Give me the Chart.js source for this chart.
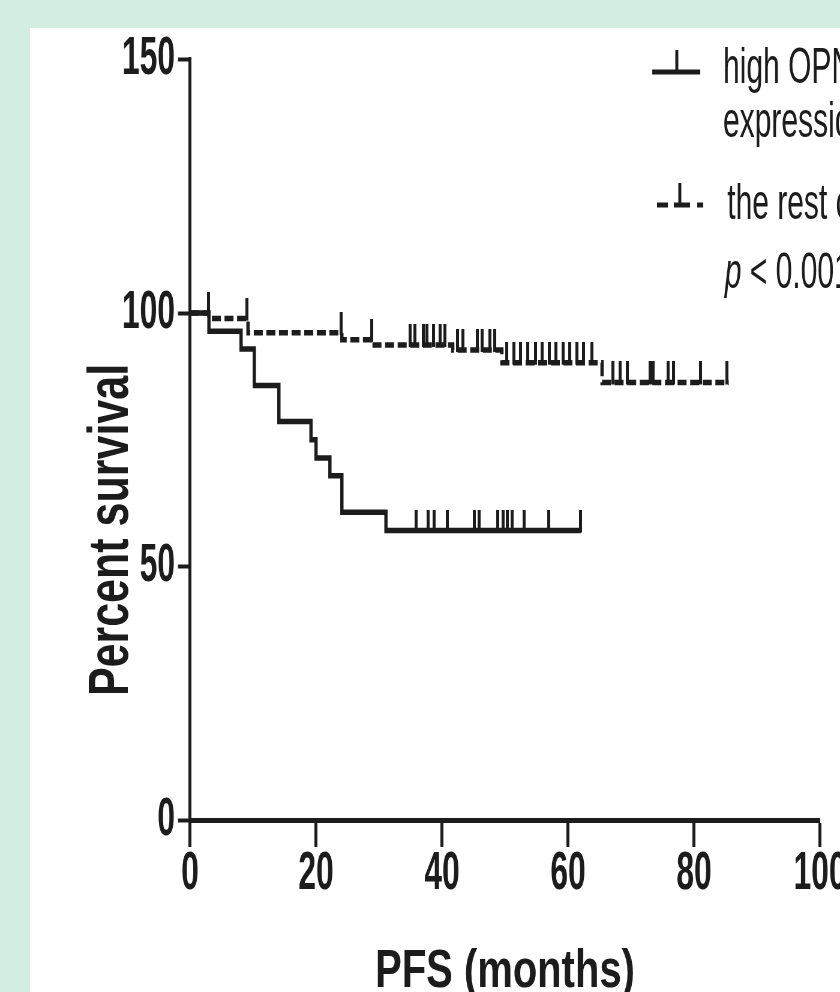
<!DOCTYPE html>
<html>
<head>
<meta charset="utf-8">
<script src="https://cdn.jsdelivr.net/npm/chart.js@4.4.1/dist/chart.umd.min.js"></script>
<style>
  html, body { margin:0; padding:0; width:840px; height:992px; overflow:hidden; background:#d4eee2; }
  #panel { position:absolute; left:30px; top:28px; width:810px; height:964px; background:#fff; overflow:hidden; }
  #km { position:absolute; left:0; top:0; }
</style>
</head>
<body>
<div id="panel"><canvas id="km" width="1500" height="964" style="width:900px;height:964px"></canvas></div>
<script>
// KM steps (months, percent)
const highMonths = [0, 3.0, 8.1, 10.2, 14.1, 19.2, 20.0, 22.2, 24.1, 31.1, 62.0];
const highSurv   = [100, 96.4, 92.9, 85.7, 78.6, 75.0, 71.4, 67.9, 60.7, 57.1, 57.1];
const highCensor = [35.9, 37.8, 38.7, 40.8, 45.1, 45.9, 48.8, 49.7, 50.4, 51.1, 53.0, 56.9, 62.0];

const restMonths = [0, 3.0, 9.2, 24.1, 28.9, 41.7, 49.5, 65.4, 85.5];
const restSurv   = [100, 98.9, 96.1, 94.7, 93.7, 92.7, 90.2, 86.3, 86.3];
const restCensor = [2.9, 9.0, 24.0, 28.8, 34.9, 35.7, 37.0, 37.6, 38.6, 39.7, 40.5, 42.5, 43.3, 45.6, 46.4,
                    47.6, 48.4, 50.3, 51.4, 52.5, 53.6, 54.8, 55.9, 57.0, 58.1, 59.2, 60.3, 61.4, 62.5, 63.8,
                    67.1, 68.3, 69.4, 73.0, 73.5, 75.9, 76.7, 81.0, 85.2];

const xTicks = [0, 20, 40, 60, 80, 100];
const yTicks = [0, 50, 100, 150];
const legendHigh = ['high OPN', 'expression'];
const legendRest = 'the rest cases';
const pText = ' < 0.001';

// canvas is 1500 wide but shown at 900px, so everything is squeezed to 0.6 horizontally
const SQ = 0.6;
const FONT = '"Liberation Sans", Arial, sans-serif';
const INK = '#1c1c1c';

function survAt(months, surv, t) {
  let v = surv[0];
  for (let i = 0; i < months.length; i++) if (months[i] <= t) v = surv[i];
  return v;
}
const pts = (m, s) => m.map((x, i) => ({ x, y: s[i] }));

// censor tick: vertical mark rising from the curve
const tick = document.createElement('canvas');
tick.width = 5; tick.height = 42;
const tc = tick.getContext('2d');
tc.fillStyle = INK; tc.fillRect(0, 0, 5, 23);

const extras = {
  id: 'extras',
  afterDraw(chart) {
    const c = chart.ctx, a = chart.chartArea;
    c.fillStyle = INK; c.strokeStyle = INK;

    // y title, rotated, thickened across
    c.save();
    c.translate(136.7, 502); c.rotate(-Math.PI / 2); c.scale(1, 2.2);
    c.font = 'bold 43px ' + FONT; c.textAlign = 'center'; c.textBaseline = 'middle';
    c.fillText('Percent survival', 0, 0);
    c.restore();

    // x title
    c.save();
    c.translate((a.left + a.right) / 2, 959); c.scale(0.74 / SQ, 1);
    c.font = 'bold 54px ' + FONT; c.textAlign = 'center'; c.textBaseline = 'alphabetic';
    c.fillText('PFS (months)', 0, 0);
    c.restore();

    // legend
    c.save();
    c.lineWidth = 5;
    c.beginPath(); c.moveTo(1037, 44); c.lineTo(1117, 44); c.stroke();
    c.beginPath(); c.moveTo(1078, 22); c.lineTo(1078, 44); c.stroke();
    c.setLineDash([18, 10, 27, 12, 10, 40]);
    c.beginPath(); c.moveTo(1045, 177); c.lineTo(1122, 177); c.stroke();
    c.setLineDash([]);
    c.beginPath(); c.moveTo(1083, 155); c.lineTo(1083, 177); c.stroke();

    c.font = '50px ' + FONT; c.textAlign = 'left'; c.textBaseline = 'alphabetic';
    c.fillText(legendHigh[0], 1155, 55);
    c.fillText(legendHigh[1], 1155, 109);
    c.fillText(legendRest, 1162, 191);
    c.font = 'italic 50px ' + FONT;
    c.fillText('p', 1158, 260);
    const w = c.measureText('p').width;
    c.font = '50px ' + FONT;
    c.fillText(pText, 1158 + w, 260);
    c.restore();
  }
};

new Chart(document.getElementById('km'), {
  type: 'line',
  data: {
    datasets: [
      { label: 'high OPN expression', data: pts(highMonths, highSurv), stepped: true,
        borderColor: INK, borderWidth: 5.5, pointRadius: 0, fill: false },
      { label: 'the rest', data: pts(restMonths, restSurv), stepped: true,
        borderColor: INK, borderWidth: 5.5, borderDash: [15, 6], pointRadius: 0, fill: false },
      { label: 'censored high', data: highCensor.map(t => ({ x: t, y: survAt(highMonths, highSurv, t) })),
        showLine: false, pointStyle: tick, pointRadius: 10 },
      { label: 'censored rest', data: restCensor.map(t => ({ x: t, y: survAt(restMonths, restSurv, t) })),
        showLine: false, pointStyle: tick, pointRadius: 10 }
    ]
  },
  options: {
    responsive: false,
    animation: false,
    devicePixelRatio: 1,
    layout: { padding: { top: 27, right: 183.3, left: 0, bottom: 0 } },
    plugins: { legend: { display: false }, tooltip: { enabled: false } },
    scales: {
      x: {
        type: 'linear', min: 0, max: 100,
        afterBuildTicks: s => { s.ticks = xTicks.map(v => ({ value: v })); },
        afterFit: s => { s.height = 172; },
        border: { display: true, color: INK, width: 5 },
        grid: { drawOnChartArea: false, tickLength: 27, tickWidth: 5, tickColor: INK },
        ticks: { color: INK, padding: 1, font: { family: FONT, size: 53, weight: 'bold', lineHeight: 1 } }
      },
      y: {
        min: 0, max: 150,
        afterBuildTicks: s => { s.ticks = yTicks.map(v => ({ value: v })); },
        afterFit: s => { s.width = 266.7; },
        border: { display: true, color: INK, width: 5 },
        grid: { drawOnChartArea: false, tickLength: 20, tickWidth: 4, tickColor: INK },
        ticks: { color: INK, padding: 5, font: { family: FONT, size: 53, weight: 'bold', lineHeight: 1 } }
      }
    }
  },
  plugins: [extras]
});
</script>
</body>
</html>
